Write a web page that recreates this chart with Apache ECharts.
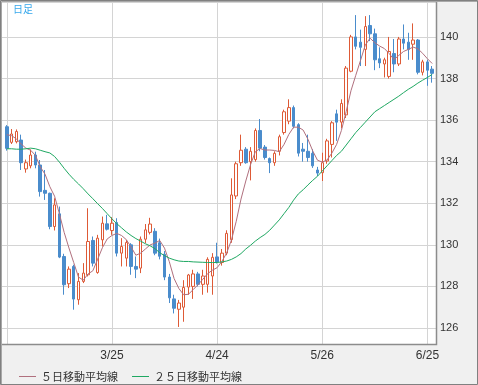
<!DOCTYPE html>
<html><head><meta charset="utf-8">
<script src="https://cdn.jsdelivr.net/npm/echarts@6/dist/echarts.min.js"></script>
<style>html,body{margin:0;padding:0;background:#f0f0f0}#c{width:478px;height:385px}</style>
</head><body><div id="c"></div>
<script>
const dates = ['2/23','2/24','2/25','2/26','2/27','3/2','3/3','3/4','3/5','3/6','3/9','3/10','3/11','3/12','3/13','3/16','3/17','3/18','3/19','3/20','3/23','3/24','3/25','3/26','3/27','3/30','3/31','4/1','4/2','4/3','4/6','4/7','4/8','4/9','4/10','4/13','4/14','4/15','4/16','4/17','4/20','4/21','4/22','4/23','4/24','4/27','4/28','4/29','4/30','5/1','5/4','5/5','5/6','5/7','5/8','5/11','5/12','5/13','5/14','5/15','5/18','5/19','5/20','5/21','5/22','5/25','5/26','5/27','5/28','5/29','6/1','6/2','6/3','6/4','6/5','6/8','6/9','6/10','6/11','6/12','6/15','6/16','6/17','6/18','6/19','6/22','6/23','6/24','6/25','6/26'];
const opens = [135.68,134.93,134.96,135.04,133.65,133.8,134.32,133.84,132.62,132.48,
130.88,131.49,129.44,128.13,128.96,127.36,128.24,128.56,130.21,128.67,
130.24,131.01,130.69,131.07,129.6,129.36,130.0,128.96,128.88,130.27,
130.6,130.65,130.1,129.55,128.45,127.4,126.9,127.0,127.97,128.0,
128.6,128.1,128.1,128.5,129.42,129.15,129.6,130.25,132.35,133.95,
134.6,134.0,134.1,135.5,134.7,134.15,133.95,134.5,135.4,135.95,
136.6,135.78,134.6,134.5,134.4,133.6,133.47,134.03,134.83,136.3,
135.9,136.25,138.35,140.0,139.75,139.4,140.55,140.15,138.95,138.7,
138.1,139.2,138.7,139.9,139.75,139.65,139.85,138.3,138.8,138.45];
const closes = [134.64,135.33,135.45,133.95,133.95,134.32,133.84,132.56,132.48,130.88,
131.92,129.41,128.08,128.83,127.39,128.24,128.64,130.16,129.12,130.32,
131.04,130.75,131.04,129.6,129.92,130.11,128.96,128.83,130.27,130.72,
131.0,129.6,129.45,128.45,127.45,126.95,127.2,127.95,128.55,128.6,
128.1,128.5,129.3,129.4,129.18,129.6,130.55,132.4,133.9,134.55,
133.95,134.5,135.5,134.65,134.2,133.95,134.4,135.2,136.4,136.6,
135.7,134.41,134.5,134.2,133.8,133.45,133.95,135.0,135.87,135.9,
136.8,138.5,140.0,139.55,139.5,140.5,140.15,138.9,138.75,138.9,
139.3,138.7,139.9,139.7,139.4,139.85,138.3,138.8,138.4,138.25];
const lows = [134.53,134.85,134.88,133.6,133.47,133.68,133.68,132.32,132.16,130.75,
130.69,129.36,127.6,127.92,126.88,127.12,128.16,128.48,128.96,128.61,
129.92,130.69,130.48,129.44,128.96,128.96,128.56,128.4,128.64,130.08,
130.5,129.5,129.3,128.3,127.2,126.7,126.05,126.3,127.6,127.4,
128.0,127.6,127.7,127.6,129.1,129.0,129.5,130.1,132.2,133.8,
133.9,133.1,134.0,134.5,134.1,133.45,133.8,134.3,135.3,135.8,
135.6,134.25,134.0,134.0,133.7,133.3,133.07,133.9,134.2,135.0,
135.6,136.1,138.3,139.4,138.6,138.6,139.8,138.4,138.5,138.05,
138.0,138.3,138.6,139.4,138.9,138.9,138.2,138.15,137.65,137.8];
const highs = [135.76,135.57,135.55,135.3,134.1,134.59,134.48,134.08,133.6,132.51,
132.24,131.84,129.57,128.96,129.04,128.64,129.12,131.76,130.4,130.48,
131.36,131.44,131.33,131.28,130.32,130.24,130.08,129.44,130.4,131.0,
131.3,130.8,130.3,129.7,128.6,127.6,127.35,128.3,128.6,128.8,
128.7,128.8,129.4,129.6,130.1,129.8,130.7,133.2,134.0,135.3,
134.7,134.7,135.6,136.05,134.8,134.2,134.5,135.3,136.5,137.0,
136.7,135.85,134.9,135.3,134.6,133.75,134.43,135.1,135.95,136.5,
137.0,138.6,140.1,141.05,140.35,141.0,141.05,140.4,139.5,139.0,
140.0,139.9,140.0,140.6,140.2,140.65,139.9,138.9,138.9,138.6];
const ma5 = [135.3,135.25,135.1,134.85,134.65,134.55,134.3,133.75,133.4,132.8,
132.34,131.5,130.6,129.85,129.15,128.45,128.3,128.6,128.75,129.3,
129.86,130.28,130.45,130.55,130.45,130.25,129.9,129.5,129.6,129.8,
130.0,130.08,130.21,129.84,129.19,128.38,127.9,127.6,127.62,127.85,
128.08,128.34,128.61,128.78,128.9,129.2,129.61,130.23,131.13,132.2,
133.07,133.86,134.48,134.63,134.56,134.56,134.54,134.48,134.83,135.31,
135.66,135.66,135.52,135.08,134.52,134.07,133.98,134.08,134.41,134.83,
135.5,136.41,137.41,138.15,138.87,139.61,139.94,139.72,139.56,139.44,
139.2,138.91,139.11,139.3,139.4,139.51,139.43,139.21,138.95,138.72];
const ma25 = [134.62,134.62,134.6,134.6,134.62,134.65,134.62,134.55,134.48,134.42,
134.25,133.98,133.68,133.4,133.15,132.93,132.7,132.45,132.22,131.98,
131.75,131.5,131.25,131.02,130.82,130.62,130.45,130.3,130.18,130.05,
129.95,129.82,129.62,129.48,129.36,129.28,129.22,129.2,129.2,129.18,
129.17,129.16,129.15,129.15,129.15,129.18,129.22,129.3,129.42,129.58,
129.8,129.98,130.18,130.35,130.5,130.7,130.95,131.2,131.5,131.8,
132.15,132.45,132.65,132.88,133.1,133.3,133.55,133.8,134.05,134.3,
134.5,134.8,135.1,135.4,135.65,135.9,136.15,136.4,136.55,136.7,
136.85,137.0,137.15,137.32,137.48,137.62,137.78,137.92,138.05,138.2];
const labelDates = ['3/25','4/24','5/26','6/25'];
const gridDates = ['2/23','3/25','4/24','5/26','6/25'];
const seriesNames = ['５日移動平均線','２５日移動平均線'];
const titleText = '日足';

const cats = [' '].concat(dates, ['  ']);
const candle = ['-'].concat(dates.map((d,i)=>[opens[i],closes[i],lows[i],highs[i]]), ['-']);
const pad = a => ['-'].concat(a, ['-']);

const chart = echarts.init(document.getElementById('c'), null, {renderer:'canvas'});
chart.setOption({
  animation:false,
  backgroundColor:'#f0f0f0',
  grid:{left:2, top:2, width:435, height:342},
  xAxis:{type:'category', data:cats, boundaryGap:false,
    axisLine:{show:false}, axisTick:{show:false},
    axisLabel:{interval:(i,v)=>labelDates.indexOf(v)>=0, color:'#333', fontSize:12, margin:6, fontFamily:'Liberation Sans, Arial, sans-serif'},
    splitLine:{show:true, interval:(i,v)=>gridDates.indexOf(v)>=0, lineStyle:{color:'#d4d4d4', width:1}}},
  yAxis:{type:'value', position:'right', min:125.23, max:141.68, splitNumber:8, scale:true,
    axisLine:{show:false}, axisTick:{show:false},
    axisLabel:{showMinLabel:false, showMaxLabel:false, color:'#333', fontSize:11, margin:3, fontFamily:'Liberation Sans, Arial, sans-serif'},
    splitLine:{lineStyle:{color:'#d4d4d4', width:1}}},
  legend:{left:14, top:366, icon:'rect', itemWidth:17, itemHeight:1, itemGap:14,
    textStyle:{color:'#333', fontSize:11, fontFamily:'Noto Sans CJK JP'}, data:seriesNames},
  graphic:[
    {type:'rect', z:-10, silent:true, shape:{x:2,y:2,width:435,height:342}, style:{fill:'#ffffff'}},
    {type:'polyline', z:100, silent:true, shape:{points:[[2,344.5],[436.5,344.5],[436.5,2]]}, style:{stroke:'#8c8c8c', lineWidth:1.5, fill:null}},
    {type:'rect', z:100, silent:true, shape:{x:0.5,y:0.5,width:477,height:384}, style:{stroke:'#808080', fill:null, lineWidth:1}},
    {type:'polyline', z:100, silent:true, shape:{points:[[1.5,384],[1.5,1.5],[477,1.5]]}, style:{stroke:'#a8a8a8', lineWidth:1, fill:null}},
    {type:'text', z:100, left:13, top:4, style:{text:titleText, fill:'#36a8ec', font:'10px "Noto Sans CJK JP"'}}
  ],
  series:[
    {type:'candlestick', data:candle, barWidth:3,
      itemStyle:{color:'#ffffff', color0:'#4a8ccc', borderColor:'#de5a36', borderColor0:'#4a8ccc', borderWidth:1}},
    {type:'line', name:seriesNames[0], data:pad(ma5), showSymbol:false, symbol:'none', color:'#b0707e', lineStyle:{width:1, color:'#b0707e'}, z:3},
    {type:'line', name:seriesNames[1], data:pad(ma25), showSymbol:false, symbol:'none', color:'#1fa862', lineStyle:{width:1, color:'#1fa862'}, z:3}
  ]
});
</script></body></html>
